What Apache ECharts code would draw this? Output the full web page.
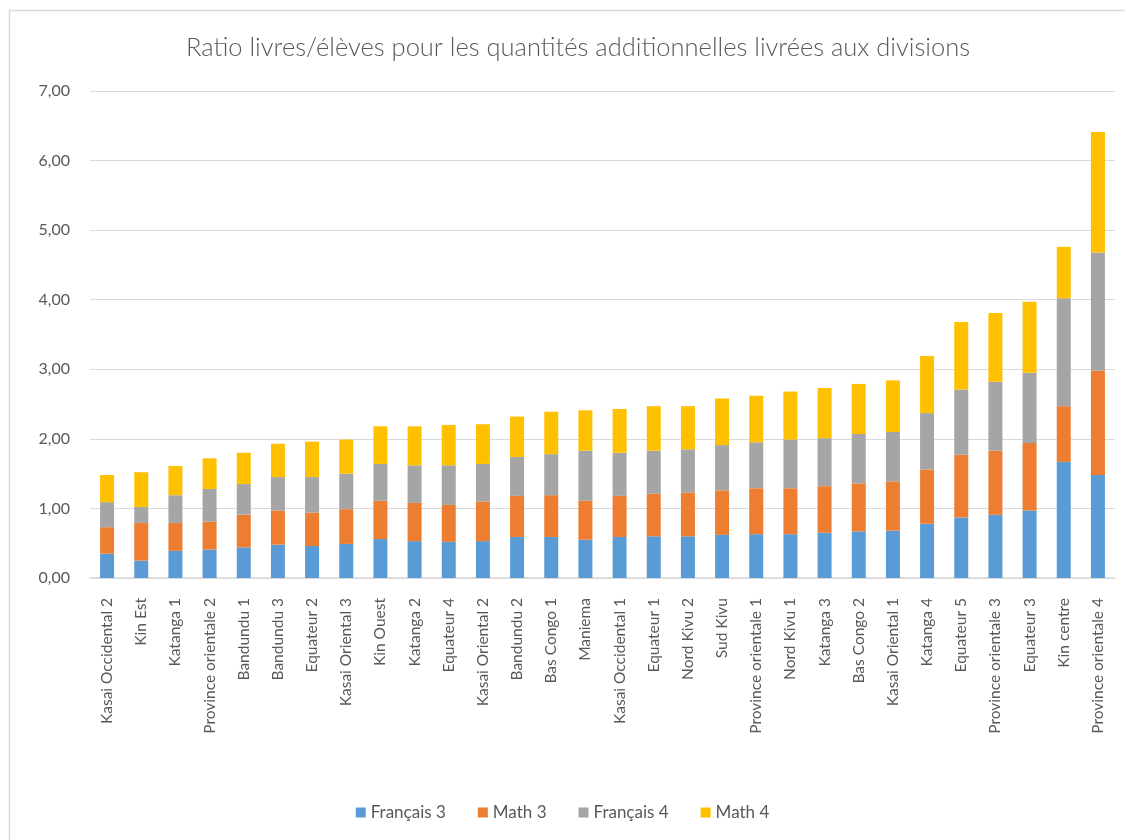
<!DOCTYPE html>
<html>
<head>
<meta charset="utf-8">
<script src="https://cdn.jsdelivr.net/npm/echarts@6/dist/echarts.min.js"></script>
<style>
  html, body { margin: 0; padding: 0; background: #ffffff; }
  #chart { width: 1125px; height: 840px; }
</style>
</head>
<body>
<div id="chart"></div>
<script>
// divisions, triées par total croissant
const divisions = [
    "Kasai Occidental 2", "Kin Est", "Katanga 1", "Province orientale 2", "Bandundu 1",
    "Bandundu 3", "Equateur 2", "Kasai Oriental 3", "Kin Ouest", "Katanga 2",
    "Equateur 4", "Kasai Oriental 2", "Bandundu 2", "Bas Congo 1", "Maniema",
    "Kasai Occidental 1", "Equateur 1", "Nord Kivu 2", "Sud Kivu", "Province orientale 1",
    "Nord Kivu 1", "Katanga 3", "Bas Congo 2", "Kasai Oriental 1", "Katanga 4",
    "Equateur 5", "Province orientale 3", "Equateur 3", "Kin centre", "Province orientale 4"
];
const francais3 = [0.35, 0.25, 0.39, 0.41, 0.44, 0.48, 0.46, 0.49, 0.56, 0.53,
                   0.52, 0.53, 0.59, 0.59, 0.55, 0.59, 0.60, 0.60, 0.62, 0.63,
                   0.63, 0.65, 0.67, 0.68, 0.78, 0.87, 0.91, 0.97, 1.67, 1.48];
const math3 = [0.38, 0.54, 0.40, 0.40, 0.47, 0.49, 0.48, 0.50, 0.55, 0.55,
               0.53, 0.57, 0.59, 0.60, 0.56, 0.59, 0.61, 0.63, 0.64, 0.66,
               0.66, 0.67, 0.69, 0.71, 0.78, 0.90, 0.92, 0.97, 0.80, 1.50];
const francais4 = [0.36, 0.23, 0.40, 0.47, 0.44, 0.48, 0.51, 0.51, 0.53, 0.54,
                   0.57, 0.54, 0.56, 0.59, 0.72, 0.62, 0.62, 0.62, 0.65, 0.66,
                   0.70, 0.69, 0.71, 0.71, 0.81, 0.94, 0.99, 1.01, 1.55, 1.70];
const math4 = [0.39, 0.50, 0.42, 0.44, 0.45, 0.48, 0.51, 0.49, 0.54, 0.56,
               0.58, 0.57, 0.58, 0.61, 0.58, 0.63, 0.64, 0.62, 0.67, 0.67,
               0.69, 0.72, 0.72, 0.74, 0.82, 0.97, 0.99, 1.02, 0.74, 1.73];
const yTicks = [0, 1, 2, 3, 4, 5, 6, 7];

const police = "Lato, 'Noto Sans', sans-serif";
const gris = "#595959";

function serie(nom, data, couleur) {
    return {
        name: nom,
        type: 'bar',
        stack: 'total',
        data: data,
        barWidth: 14,
        itemStyle: { color: couleur },
        emphasis: { disabled: true }
    };
}

const myChart = echarts.init(document.getElementById('chart'), null, { renderer: 'canvas' });
const option = {
    animation: false,
    backgroundColor: '#ffffff',
    textStyle: { fontFamily: police },
    title: {
        text: 'Ratio livres/élèves pour les quantités additionnelles livrées aux divisions',
        left: 573,
        textAlign: 'center',
        top: 30,
        textStyle: { fontFamily: police, fontSize: 25.5, fontWeight: 300, color: gris }
    },
    legend: {
        bottom: 14,
        left: 'center',
        itemWidth: 10,
        itemHeight: 10,
        itemGap: 32,
        icon: 'rect',
        textStyle: { fontFamily: police, fontSize: 17, color: gris },
        data: ['Français 3', 'Math 3', 'Français 4', 'Math 4']
    },
    grid: { left: 90, right: 10, top: 91, bottom: 262 },
    xAxis: {
        type: 'category',
        data: divisions,
        axisLine: { lineStyle: { color: '#D9D9D9', width: 1.5 } },
        axisTick: { show: false },
        axisLabel: {
            rotate: 90,
            interval: 0,
            margin: 20,
            fontFamily: police,
            fontSize: 15.5,
            color: gris
        }
    },
    yAxis: {
        type: 'value',
        min: yTicks[0],
        max: yTicks[yTicks.length - 1],
        interval: 1,
        axisLine: { show: false },
        axisTick: { show: false },
        splitLine: { lineStyle: { color: '#D9D9D9', width: 1.2 } },
        axisLabel: {
            margin: 20,
            fontFamily: police,
            fontSize: 16,
            color: gris,
            formatter: function (v) { return v.toFixed(2).replace('.', ','); }
        }
    },
    graphic: [{
        type: 'rect',
        shape: { x: 9.5, y: 10.5, width: 1200, height: 900 },
        style: { fill: 'none', stroke: '#D9D9D9', lineWidth: 1.5 },
        silent: true,
        z: -10
    }],
    series: [
        serie('Français 3', francais3, '#5B9BD5'),
        serie('Math 3', math3, '#ED7D31'),
        serie('Français 4', francais4, '#A5A5A5'),
        serie('Math 4', math4, '#FFC000')
    ]
};
myChart.setOption(option);
</script>
</body>
</html>
